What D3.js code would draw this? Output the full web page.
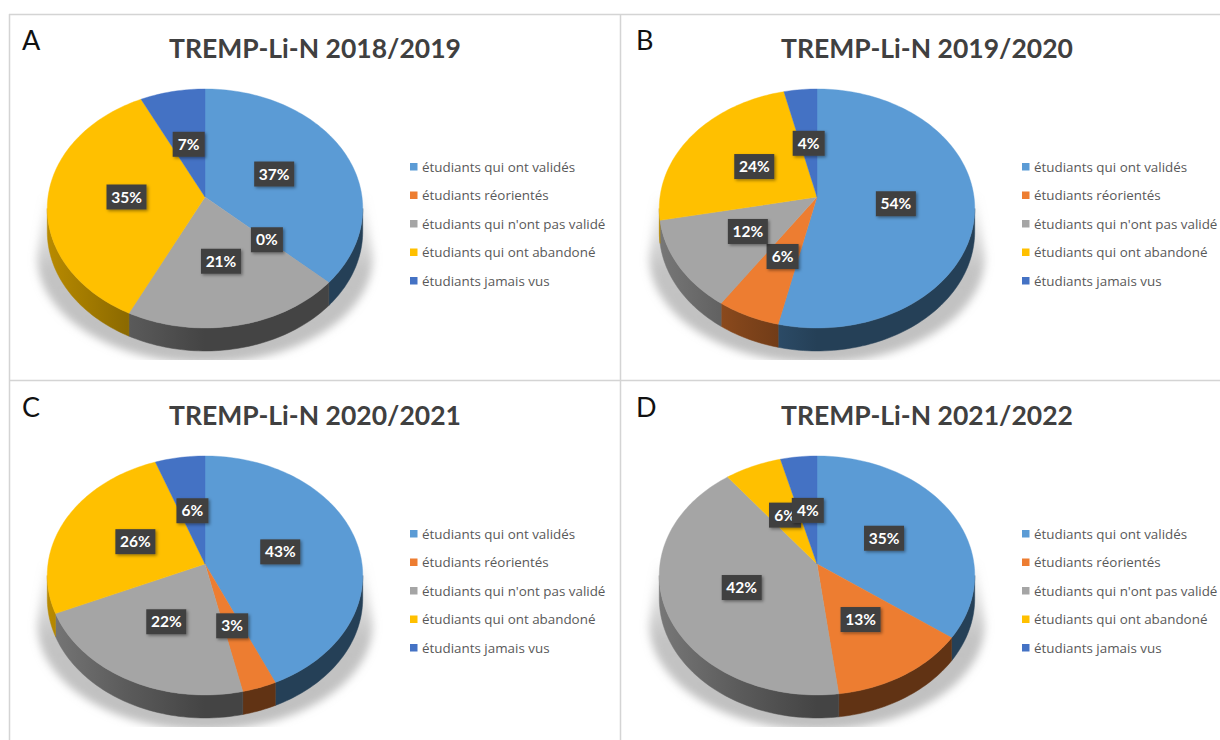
<!DOCTYPE html>
<html>
<head>
<meta charset="utf-8">
<script src="https://cdn.jsdelivr.net/npm/d3@7"></script>
<style>
  html, body { margin: 0; padding: 0; background: #fff; }
  svg { display: block; }
</style>
</head>
<body>
<svg width="1220" height="740"></svg>
<script>
let categories = [
  'étudiants qui ont validés',
  'étudiants réorientés',
  "étudiants qui n'ont pas validé",
  'étudiants qui ont abandoné',
  'étudiants jamais vus'
]
let colors = ['#5b9bd5', '#ed7d31', '#a5a5a5', '#ffc000', '#4472c4']

let letters = ['A', 'B', 'C', 'D']
let titles = [
  'TREMP-Li-N 2018/2019',
  'TREMP-Li-N 2019/2020',
  'TREMP-Li-N 2020/2021',
  'TREMP-Li-N 2021/2022'
]
// the labels round these
let valuesA = [36.8, 0, 20.5, 35.4, 7.3]
let valuesB = [53.6, 5.9, 12.4, 24.4, 3.7]
let valuesC = [43.3, 3.2, 21.9, 26, 5.6]
let valuesD = [35, 13, 41.5, 6.4, 4.1]
let panelValues = [valuesA, valuesB, valuesC, valuesD]

let svg = d3.select('svg')
let color = d3.scaleOrdinal().domain(categories).range(colors)
let legendY = d3.scalePoint().domain(categories).range([0, 114])
let col = d3.scaleOrdinal().domain(letters).range([0, 612, 0, 612])
let row = d3.scaleOrdinal().domain(letters).range([0, 0, 367, 367])

// pie geometry, the same in all four panels
let cx = 205
let cy = 197
let rx = 157
let ry = 118.4
let persp = 0.096
let depth = 23
let wallStart = Math.PI / 2 + Math.asin(persp)
let wallEnd = Math.PI * 1.5 - Math.asin(persp)

// tilted circle with some perspective, the near side looks bigger
function project(angle, drop) {
  let u = Math.sin(angle)
  let v = -Math.cos(angle)
  let w = 1 - persp * v
  return [
    cx + rx * u / w,
    cy + ry * v / w + (drop || 0)
  ]
}

function rim(a0, a1, drop) {
  let n = Math.max(2, Math.ceil((a1 - a0) * 40))
  return d3.range(n + 1).map(i => project(a0 + (a1 - a0) * i / n, drop))
}

let line = d3.line()
let pie = d3.pie().value(d => d.value).sort(null)

let defs = svg.append('defs')

let blur = defs.append('filter').attr('id', 'blur')
  .attr('x', '-20%').attr('y', '-20%').attr('width', '140%').attr('height', '140%')
blur.append('feGaussianBlur').attr('stdDeviation', 4)

let labelShadow = defs.append('filter').attr('id', 'labelShadow')
  .attr('x', '-30%').attr('y', '-30%').attr('width', '170%').attr('height', '170%')
labelShadow.append('feDropShadow')
  .attr('dx', 1.5).attr('dy', 1.5).attr('stdDeviation', 1.5)
  .attr('flood-color', '#000').attr('flood-opacity', 0.4)

let shadowFade = defs.append('linearGradient').attr('id', 'shadowFade')
  .attr('x1', 0).attr('y1', 0).attr('x2', 0).attr('y2', 1)
shadowFade.append('stop').attr('offset', '0%').attr('stop-color', '#aaa').attr('stop-opacity', 0.05)
shadowFade.append('stop').attr('offset', '45%').attr('stop-color', '#aaa').attr('stop-opacity', 0.7)
shadowFade.append('stop').attr('offset', '100%').attr('stop-color', '#aaa').attr('stop-opacity', 0.75)

// side walls go lighter towards the left
categories.forEach((c, i) => {
  let g = defs.append('linearGradient').attr('id', 'wall' + i)
    .attr('gradientUnits', 'userSpaceOnUse')
    .attr('x1', cx - rx).attr('y1', 0).attr('x2', cx + rx).attr('y2', 0)
  let base = d3.rgb(color(c))
  let shade = f => d3.rgb(base.r * f, base.g * f, base.b * f).formatHex()
  g.append('stop').attr('offset', '0%').attr('stop-color', shade(0.72))
  g.append('stop').attr('offset', '25%').attr('stop-color', shade(0.55))
  g.append('stop').attr('offset', '50%').attr('stop-color', shade(0.41))
  g.append('stop').attr('offset', '100%').attr('stop-color', shade(0.41))
})

defs.append('clipPath').attr('id', 'shadowClip')
  .append('rect')
  .attr('x', cx - 190).attr('y', cy - 20)
  .attr('width', 380).attr('height', 183)

// shadow outline: straight sides on top, half an ellipse under
let shadowD = 'M' + [cx - 160, cy] + 'L' + [cx - 168, cy + 60] +
  'A168,106 0 0 0 ' + [cx + 168, cy + 60] + 'L' + [cx + 160, cy] + 'Z'

// panel frame
let frame = svg.append('g')
  .attr('stroke', '#d4d4d4')
  .attr('stroke-width', 1.5)
frame.append('line').attr('x1', 9).attr('x2', 1220).attr('y1', 14.5).attr('y2', 14.5)
frame.append('line').attr('x1', 9).attr('x2', 1220).attr('y1', 380.5).attr('y2', 380.5)
frame.append('line').attr('x1', 9.5).attr('x2', 9.5).attr('y1', 14).attr('y2', 740)
frame.append('line').attr('x1', 620.5).attr('x2', 620.5).attr('y1', 14).attr('y2', 740)

letters.forEach((letter, p) => {
  let g = svg.append('g')
    .attr('transform', 'translate(' + [col(letter), row(letter)] + ')')

  g.append('text')
    .attr('x', 22 + (p % 2 ? 2 : 0))
    .attr('y', 50)
    .attr('font-family', 'Lato')
    .attr('font-size', 27)
    .attr('fill', '#111')
    .text(letter)

  g.append('text')
    .attr('x', 315)
    .attr('y', 58)
    .attr('text-anchor', 'middle')
    .attr('font-family', 'Lato')
    .attr('font-weight', 700)
    .attr('font-size', 26.5)
    .attr('fill', '#404040')
    .text(titles[p])

  // soft shadow under the pie
  g.append('g').attr('clip-path', 'url(#shadowClip)')
    .append('path')
    .attr('d', shadowD)
    .attr('fill', 'url(#shadowFade)')
    .attr('filter', 'url(#blur)')

  let slices = pie(categories.map((c, i) => ({ name: c, value: panelValues[p][i] })))

  // walls first, only the near half of the rim shows
  slices.forEach((s, i) => {
    let a0 = Math.max(s.startAngle, wallStart)
    let a1 = Math.min(s.endAngle, wallEnd)
    if (a1 <= a0) return
    g.append('path')
      .attr('d', line(rim(a0, a1, 0).concat(rim(a0, a1, depth).reverse())) + 'Z')
      .attr('fill', 'url(#wall' + i + ')')
      .attr('stroke', 'url(#wall' + i + ')')
      .attr('stroke-width', 0.5)
  })

  slices.forEach(s => {
    if (s.value === 0) return
    g.append('path')
      .attr('d', line([[cx, cy]].concat(rim(s.startAngle, s.endAngle, 0))) + 'Z')
      .attr('fill', color(s.data.name))
      .attr('stroke', color(s.data.name))
      .attr('stroke-width', 0.4)
  })

  // value labels sit halfway out along the middle of each slice
  slices.forEach(s => {
    let mid = project((s.startAngle + s.endAngle) / 2)
    let x = cx + (mid[0] - cx) * 0.5
    let y = cy + (mid[1] - cy) * 0.5
    let shown = Math.round(s.value)
    let w = shown >= 10 ? 40 : 32
    let label = g.append('g').attr('transform', 'translate(' + [x, y] + ')')
    label.append('rect')
      .attr('x', -w / 2).attr('y', -12.5)
      .attr('width', w).attr('height', 25)
      .attr('fill', '#404040')
      .attr('filter', 'url(#labelShadow)')
    label.append('text')
      .attr('text-anchor', 'middle')
      .attr('y', 5.5)
      .attr('font-family', 'Lato')
      .attr('font-weight', 700)
      .attr('font-size', 15.5)
      .attr('fill', '#fff')
      .text(shown + '%')
  })

  let legend = g.append('g').attr('transform', 'translate(410,167)')
  let items = legend.selectAll('g').data(categories).join('g')
    .attr('transform', d => 'translate(' + [0, legendY(d)] + ')')
  items.append('rect')
    .attr('y', -4).attr('width', 7.5).attr('height', 7.5)
    .attr('fill', d => color(d))
  items.append('text')
    .attr('x', 12)
    .attr('y', 4.5)
    .attr('font-family', 'Open Sans')
    .attr('font-size', 13.4)
    .attr('fill', '#595959')
    .text(d => d)
})
</script>
</body>
</html>
